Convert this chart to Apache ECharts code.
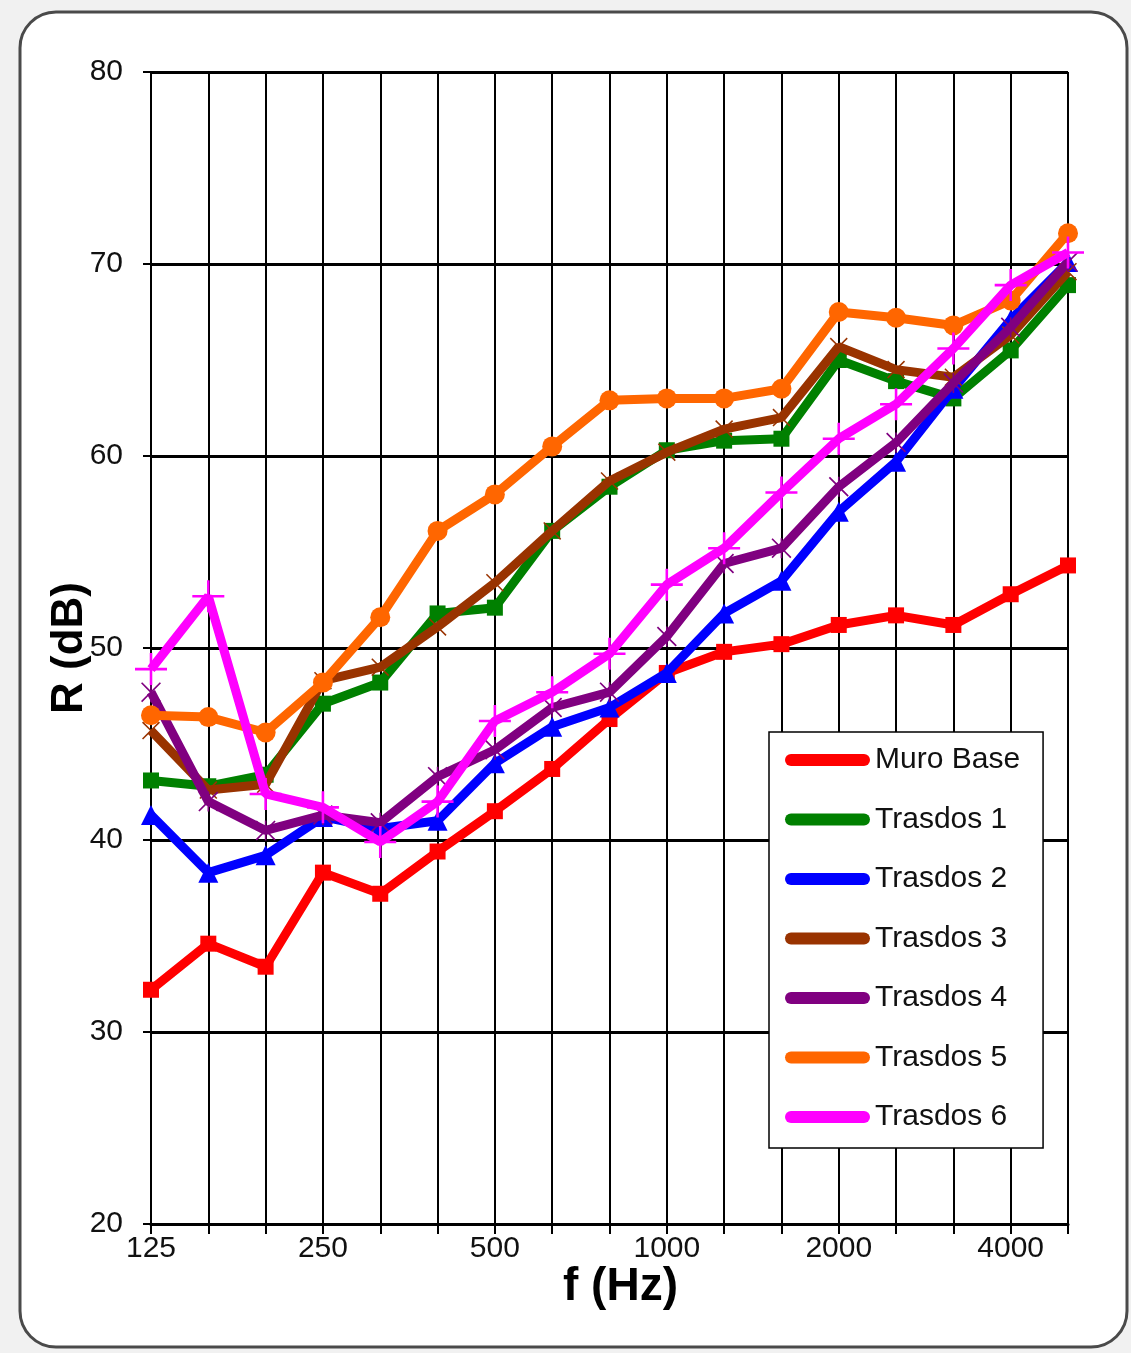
<!DOCTYPE html>
<html>
<head>
<meta charset="utf-8">
<script src="https://cdn.jsdelivr.net/npm/echarts@6/dist/echarts.min.js"></script>
<style>
html,body{margin:0;padding:0;background:#f1f1f1;}
#chart{width:1131px;height:1353px;}
</style>
</head>
<body>
<div id="chart"></div>
<script>
var frequencies = ['125','160','200','250','315','400','500','630','800','1000','1250','1600','2000','2500','3150','4000','5000'];
var seriesNames = ['Muro Base','Trasdos 1','Trasdos 2','Trasdos 3','Trasdos 4','Trasdos 5','Trasdos 6'];
var muroBase = [32.2,34.6,33.4,38.3,37.2,39.4,41.5,43.7,46.3,48.7,49.8,50.2,51.2,51.7,51.2,52.8,54.3];
var trasdos1 = [43.1,42.8,43.4,47.1,48.2,51.8,52.1,56.1,58.4,60.3,60.8,60.9,65.0,63.9,63.0,65.5,68.9];
var trasdos2 = [41.3,38.3,39.2,41.2,40.6,41.0,44.0,45.9,46.9,48.7,51.8,53.5,57.1,59.7,63.5,67.1,70.1];
var trasdos3 = [45.7,42.6,42.9,48.3,49.0,51.1,53.4,56.1,58.7,60.2,61.4,62.0,65.7,64.5,64.1,66.3,69.6];
var trasdos4 = [47.7,42.0,40.5,41.3,40.9,43.3,44.7,46.9,47.7,50.6,54.4,55.2,58.4,60.7,63.8,66.7,70.1];
var trasdos5 = [46.5,46.4,45.6,48.2,51.6,56.1,58.0,60.5,62.9,63.0,63.0,63.5,67.5,67.2,66.8,68.1,71.6];
var trasdos6 = [48.9,52.7,42.4,41.7,39.9,42.0,46.2,47.7,49.7,53.3,55.2,58.1,60.9,62.7,65.6,68.9,70.6];
var yTicks = [20,30,40,50,60,70,80];

var colors = ['#ff0000','#008000','#0000ff','#993300','#800080','#ff6600','#ff00ff'];
var plusPath = 'path://M0,9.2h20v1.6h-20z M9.2,0h1.6v20h-1.6z';
var crossPath = 'path://M1.2,0L10,8.8L18.8,0L20,1.2L11.2,10L20,18.8L18.8,20L10,11.2L1.2,20L0,18.8L8.8,10L0,1.2z';
var starPath = 'path://M1.2,0L10,8.8L18.8,0L20,1.2L11.2,10L20,18.8L18.8,20L10,11.2L1.2,20L0,18.8L8.8,10L0,1.2z M9.2,0h1.6v20h-1.6z';
var symbols = ['rect','rect','triangle',crossPath,starPath,'circle',plusPath];
var symbolSizes = [16,16,20,18,20,20,32];
var dataSets = [muroBase,trasdos1,trasdos2,trasdos3,trasdos4,trasdos5,trasdos6];
var capsule = 'path://M6,0H79A6,6 0 0 1 79,12H6A6,6 0 0 1 6,0Z';

var series = seriesNames.map(function(n,i){
  return {
    name:n, type:'line', data:dataSets[i],
    symbol:symbols[i], symbolSize:symbolSizes[i], showSymbol:true,
    lineStyle:{color:colors[i], width:9},
    itemStyle:{color:colors[i]},
    emphasis:{disabled:true}, animation:false, z:2+i
  };
});

var chart = echarts.init(document.getElementById('chart'), null, {renderer:'canvas'});
chart.setOption({
  animation:false,
  backgroundColor:'transparent',
  graphic:[{type:'rect', z:-10, silent:true,
    shape:{x:20,y:12,width:1107,height:1335,r:36},
    style:{fill:'#ffffff', stroke:'#4a4a4a', lineWidth:3}}],
  color:colors,
  grid:{left:151, top:72, width:917, height:1152, containLabel:false},
  legend:{
    show:true, orient:'vertical', left:769, top:732,
    backgroundColor:'#ffffff', borderColor:'#000', borderWidth:1.5,
    padding:[13,23,16,16],
    itemWidth:85, itemHeight:12, itemGap:29.5, itemTextGap:4,
    icon:capsule,
    textStyle:{fontFamily:'Liberation Sans', fontSize:30, color:'#111', lineHeight:30},
    data:seriesNames.map(function(n,i){return {name:n, icon:capsule, itemStyle:{color:colors[i]}};})
  },
  xAxis:{
    type:'category', data:frequencies, boundaryGap:false,
    name:'f (Hz)', nameLocation:'middle', nameGap:40, nameMoveOverlap:false,
    nameTextStyle:{fontFamily:'Liberation Sans', fontWeight:'bold', fontSize:46, color:'#000', padding:[0,0,0,22]},
    axisLine:{show:true, lineStyle:{color:'#000', width:3}},
    axisTick:{show:true, interval:0, length:10, lineStyle:{color:'#000', width:2}},
    axisLabel:{interval:2, margin:10, fontFamily:'Liberation Sans', fontSize:30, color:'#111'},
    splitLine:{show:true, interval:0, lineStyle:{color:'#000', width:2}}
  },
  yAxis:{
    type:'value', min:20, max:80, interval:10,
    name:'R (dB)', nameLocation:'middle', nameGap:59, nameMoveOverlap:false,
    nameTextStyle:{fontFamily:'Liberation Sans', fontWeight:'bold', fontSize:44, color:'#000'},
    axisLine:{show:true, lineStyle:{color:'#000', width:2}},
    axisTick:{show:true, length:8, lineStyle:{color:'#000', width:2}},
    axisLabel:{margin:28, fontFamily:'Liberation Sans', fontSize:30, color:'#111',
      formatter:function(v){return yTicks.indexOf(v)>=0 ? String(v) : '';}},
    splitLine:{show:true, lineStyle:{color:'#000', width:3}}
  },
  series:series
});
</script>
</body>
</html>
